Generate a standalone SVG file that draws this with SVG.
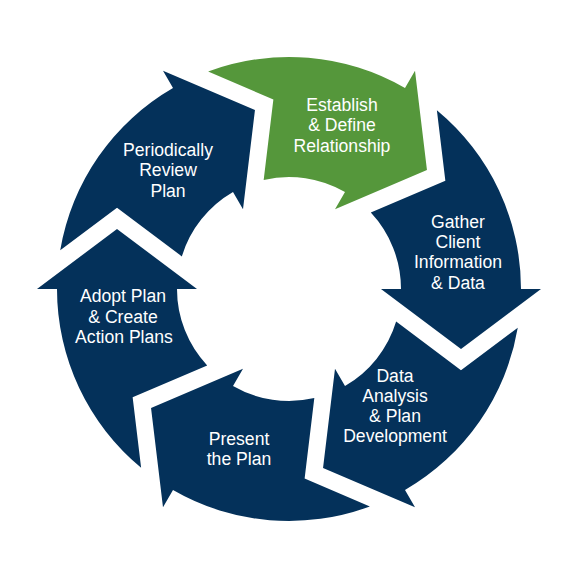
<svg xmlns="http://www.w3.org/2000/svg" width="576" height="576" viewBox="0 0 576 576">
<style>
.navy{fill:#04315A}
.green{fill:#55973B}
.lbl{font-family:"Liberation Sans",Arial,sans-serif;font-size:17.6px;fill:#ffffff;text-anchor:middle}
</style>
<defs>
<path id="seg" d="M147.88,-178.77 A232,232 0 0 1 232,0 L252,0 L172,60 L92,0 L112,0 A112,112 0 0 0 81.82,-76.48 L156.36,-108.32 Z"/>
</defs>
<rect width="576" height="576" fill="#ffffff"/>
<g id="connectors"></g>
<g id="node-establish">
<use href="#seg" class="green" transform="translate(289 289) rotate(300)"/>
<text class="lbl" x="342" y="111">Establish</text>
<text class="lbl" x="342" y="131.3">&amp; Define</text>
<text class="lbl" x="342" y="151.6">Relationship</text>
</g>
<g id="node-gather">
<use href="#seg" class="navy" transform="translate(289 289)"/>
<text class="lbl" x="458" y="228">Gather</text>
<text class="lbl" x="458" y="248.2">Client</text>
<text class="lbl" x="458" y="268.4">Information</text>
<text class="lbl" x="458" y="288.6">&amp; Data</text>
</g>
<g id="node-analysis">
<use href="#seg" class="navy" transform="translate(289 289) rotate(60)"/>
<text class="lbl" x="395" y="382">Data</text>
<text class="lbl" x="395" y="402">Analysis</text>
<text class="lbl" x="395" y="422">&amp; Plan</text>
<text class="lbl" x="395" y="442">Development</text>
</g>
<g id="node-present">
<use href="#seg" class="navy" transform="translate(289 289) rotate(120)"/>
<text class="lbl" x="239" y="445">Present</text>
<text class="lbl" x="239" y="465">the Plan</text>
</g>
<g id="node-adopt">
<use href="#seg" class="navy" transform="translate(289 289) rotate(180)"/>
<text class="lbl" x="123" y="302">Adopt Plan</text>
<text class="lbl" x="123" y="322.5">&amp; Create</text>
<text class="lbl" x="124" y="343">Action Plans</text>
</g>
<g id="node-review">
<use href="#seg" class="navy" transform="translate(289 289) rotate(240)"/>
<text class="lbl" x="168" y="156">Periodically</text>
<text class="lbl" x="168" y="176.4">Review</text>
<text class="lbl" x="168" y="196.8">Plan</text>
</g>
</svg>
